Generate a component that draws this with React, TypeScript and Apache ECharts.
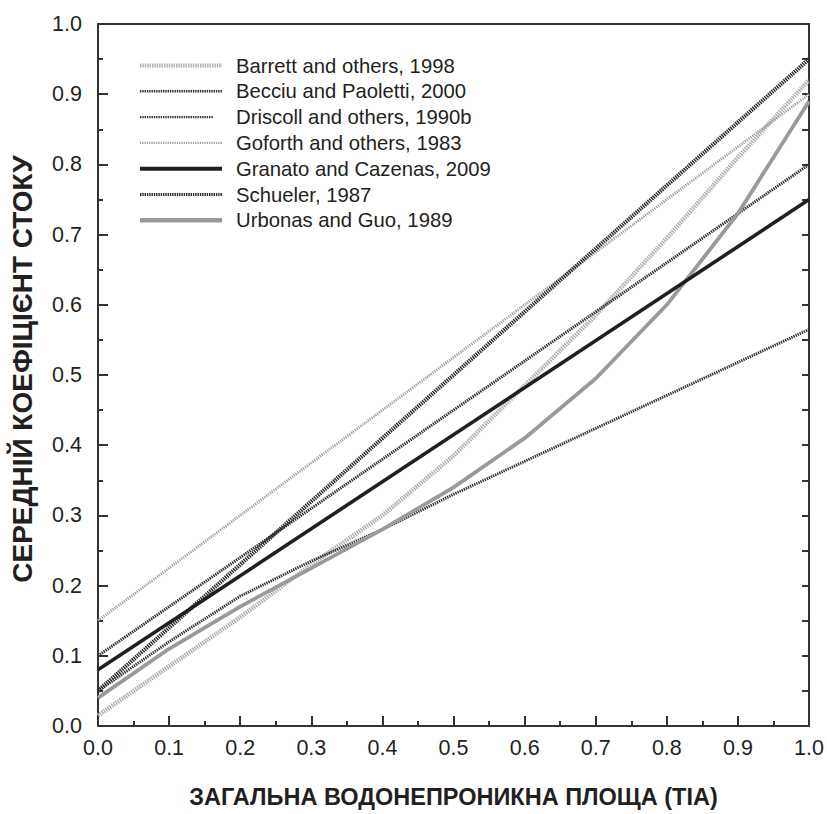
import React, { useEffect, useRef } from "react";
import * as echarts from "echarts";

const tiaSteps = [0, 0.1, 0.2, 0.3, 0.4, 0.5, 0.6, 0.7, 0.8, 0.9, 1.0];
const tiaEnds = [0, 1.0];

const barrett = [0.015, 0.085, 0.155, 0.23, 0.3, 0.385, 0.485, 0.585, 0.695, 0.81, 0.92];
const becciu = [0.1, 0.8];
const driscoll = [0.05, 0.12, 0.185, 0.235, 0.28, 0.33, 0.377, 0.424, 0.471, 0.518, 0.565];
const goforth = [0.15, 0.9];
const granato = [0.08, 0.75];
const schueler = [0.05, 0.95];
const urbonas = [0.04, 0.11, 0.17, 0.225, 0.28, 0.34, 0.41, 0.495, 0.6, 0.73, 0.89];

const seriesNames = [
  "Barrett and others, 1998",
  "Becciu and Paoletti, 2000",
  "Driscoll and others, 1990b",
  "Goforth and others, 1983",
  "Granato and Cazenas, 2009",
  "Schueler, 1987",
  "Urbonas and Guo, 1989",
];

const xTitle = "ЗАГАЛЬНА ВОДОНЕПРОНИКНА ПЛОЩА (TIA)";
const yTitle = "СЕРЕДНІЙ КОЕФІЦІЄНТ СТОКУ";

const FONT = "'Liberation Sans', Arial, Helvetica, sans-serif";
const INK = "#231f20";
const AXIS = "#333333";

type Sty = { color: string; width: number; dash: number[] | null; z: number; legendWidth: number; legendShort?: boolean };
const styles: Sty[] = [
  { color: "#adadad", width: 4.5, dash: [1.4, 1.0], z: 2, legendWidth: 4 },
  { color: "#2f2f2f", width: 3, dash: [1.4, 0.9], z: 3, legendWidth: 2.6 },
  { color: "#333333", width: 2.9, dash: [1.4, 0.9], z: 3, legendWidth: 2.4, legendShort: true },
  { color: "#9c9c9c", width: 2.8, dash: [1.2, 1.1], z: 2, legendWidth: 2.2 },
  { color: "#231f20", width: 3.6, dash: null, z: 5, legendWidth: 4 },
  { color: "#2a2a2a", width: 4.2, dash: [1.4, 0.9], z: 3, legendWidth: 2.8 },
  { color: "#9a9a9a", width: 3.8, dash: null, z: 4, legendWidth: 4.4 },
];

function pairs(xs: number[], ys: number[]) {
  return xs.map((x, i) => [x, ys[i]]);
}

export default function App() {
  const ref = useRef<HTMLDivElement>(null);
  useEffect(() => {
    if (!ref.current) return;
    const chart = echarts.init(ref.current, undefined, { renderer: "svg" });
    const datas = [
      pairs(tiaSteps, barrett),
      pairs(tiaEnds, becciu),
      pairs(tiaSteps, driscoll),
      pairs(tiaEnds, goforth),
      pairs(tiaEnds, granato),
      pairs(tiaEnds, schueler),
      pairs(tiaSteps, urbonas),
    ];
    const series = seriesNames.map((name, i) => {
      const s = styles[i];
      return {
        name,
        type: "line",
        data: datas[i],
        symbol: "none",
        xAxisIndex: 0,
        yAxisIndex: 0,
        z: s.z,
        lineStyle: {
          color: s.color,
          width: s.width,
          type: s.dash ? s.dash : "solid",
          cap: "butt",
        },
        itemStyle: { color: s.color },
        emphasis: { disabled: true },
      };
    });

    const legendTop = 65.5;
    const legendStep = 25.8;
    const legendEls: any[] = [];
    seriesNames.forEach((name, i) => {
      const s = styles[i];
      const cy = legendTop + i * legendStep;
      legendEls.push({
        type: "line",
        shape: { x1: 140, y1: cy, x2: s.legendShort ? 213 : 222, y2: cy },
        style: {
          stroke: s.color,
          lineWidth: s.legendWidth,
          lineDash: s.dash ? s.dash : null,
          lineCap: "butt",
        },
      });
      legendEls.push({
        type: "text",
        x: 236,
        y: cy,
        style: {
          text: name,
          fill: INK,
          font: `20.3px ${FONT}`,
          verticalAlign: "middle",
          align: "left",
        },
      });
    });

    chart.setOption({
      animation: false,
      backgroundColor: "#ffffff",
      textStyle: { fontFamily: FONT },
      grid: { left: 98, top: 24, right: 16, bottom: 81, containLabel: false },
      graphic: legendEls,
      xAxis: [
        {
          type: "value",
          min: 0,
          max: 1,
          interval: 0.1,
          position: "bottom",
          name: xTitle,
          nameLocation: "middle",
          nameGap: 59,
          nameTextStyle: { fontFamily: FONT, fontSize: 23.5, fontWeight: "bold", color: INK },
          axisLine: { show: true, onZero: false, lineStyle: { color: AXIS, width: 2 } },
          axisTick: { show: true, inside: true, length: 10, lineStyle: { color: AXIS, width: 2 } },
          minorTick: { show: true, splitNumber: 2, length: 5, lineStyle: { color: AXIS, width: 2 } },
          splitLine: { show: false },
          axisLabel: {
            margin: 11,
            fontFamily: FONT,
            fontSize: 21.5,
            color: INK,
            formatter: (v: number) => v.toFixed(1),
          },
        },
        {
          type: "value",
          min: 0,
          max: 1,
          position: "top",
          axisLine: { show: true, onZero: false, lineStyle: { color: AXIS, width: 2 } },
          axisTick: { show: false },
          axisLabel: { show: false },
          splitLine: { show: false },
        },
      ],
      yAxis: [
        {
          type: "value",
          min: 0,
          max: 1,
          interval: 0.1,
          position: "left",
          name: yTitle,
          nameLocation: "middle",
          nameGap: 62,
          nameTextStyle: {
            fontFamily: FONT,
            fontSize: 28,
            fontWeight: "bold",
            color: INK,
            padding: [0, 0, 0, 12],
          },
          axisLine: { show: true, onZero: false, lineStyle: { color: AXIS, width: 2 } },
          axisTick: { show: true, inside: true, length: 10, lineStyle: { color: AXIS, width: 2 } },
          minorTick: { show: true, splitNumber: 2, length: 5, lineStyle: { color: AXIS, width: 2 } },
          splitLine: { show: false },
          axisLabel: {
            margin: 16,
            fontFamily: FONT,
            fontSize: 21.5,
            color: INK,
            formatter: (v: number) => v.toFixed(1),
          },
        },
        {
          type: "value",
          min: 0,
          max: 1,
          interval: 0.05,
          position: "right",
          axisLine: { show: true, onZero: false, lineStyle: { color: AXIS, width: 2 } },
          axisTick: { show: true, inside: true, length: 7, lineStyle: { color: AXIS, width: 2 } },
          axisLabel: { show: false },
          splitLine: { show: false },
        },
      ],
      series,
    });
    return () => chart.dispose();
  }, []);
  return (
    <div
      ref={ref}
      style={{ position: "fixed", left: 0, top: 0, width: 827, height: 814, background: "#fff" }}
    />
  );
}
